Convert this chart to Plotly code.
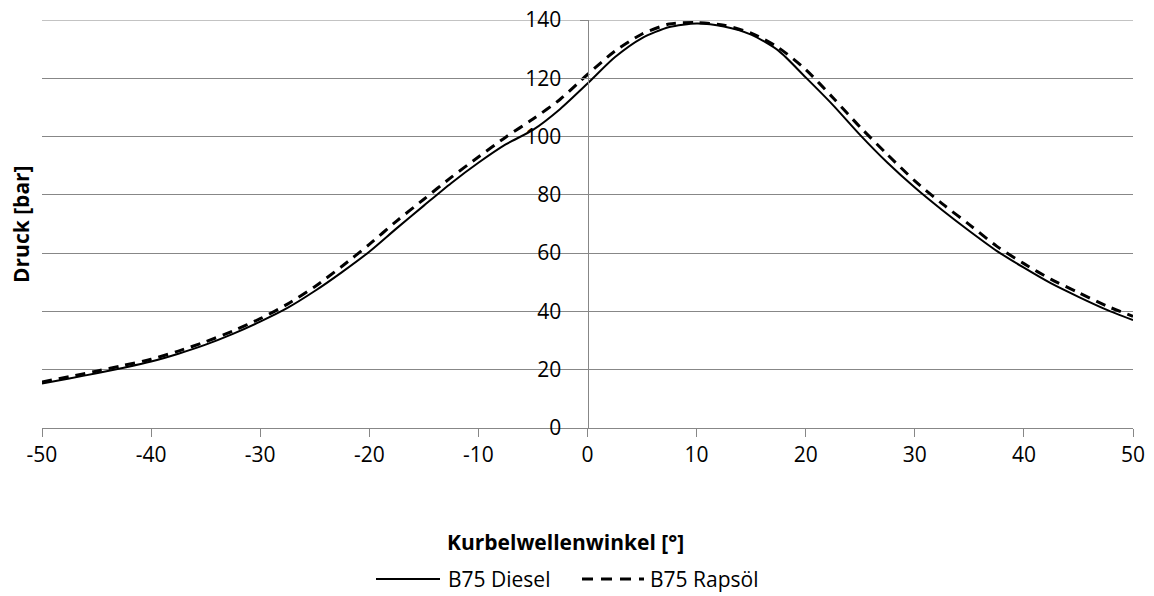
import plotly.graph_objects as go

# Crank angle [°]
winkel = [-50, -47.5, -45, -42.5, -40, -37.5, -35, -32.5, -30, -27.5, -25, -22.5, -20,
          -17.5, -15, -12.5, -10, -7.5, -5, -2.5, 0, 2.5, 5, 7.5, 10, 12.5, 15, 17.5,
          20, 22.5, 25, 27.5, 30, 32.5, 35, 37.5, 40, 42.5, 45, 47.5, 50]

# Pressure [bar]
b75_diesel = [15.3, 17.0, 18.8, 20.7, 22.8, 25.5, 28.6, 32.3, 36.5, 41.2, 47.0, 53.5, 60.5,
              68.5, 76.3, 84.0, 91.0, 97.3, 102.3, 109.5, 118.2, 127.2, 133.8, 137.6, 138.8,
              137.8, 135.0, 129.5, 120.3, 110.8, 100.5, 91.0, 82.5, 74.8, 67.6, 60.8, 55.0,
              49.6, 45.0, 40.7, 37.0]
b75_rapsoel = [15.8, 17.6, 19.5, 21.5, 23.6, 26.4, 29.6, 33.3, 37.5, 42.5, 48.5, 55.5, 63.0,
               71.0, 78.5, 86.0, 93.0, 99.8, 106.0, 112.8, 121.3, 129.3, 135.2, 138.6, 139.1,
               138.2, 135.5, 130.5, 123.0, 113.3, 103.2, 93.8, 84.8, 77.0, 69.8, 62.4, 56.4,
               51.0, 46.5, 42.0, 38.3]

x_ticks = [-50, -40, -30, -20, -10, 0, 10, 20, 30, 40, 50]
x_ticktext = ["-50", "-40", "-30", "-20", "-10", "0", "10", "20", "30", "40", "50"]
y_ticks = [0, 20, 40, 60, 80, 100, 120, 140]
series_names = ["B75 Diesel", "B75 Rapsöl"]

FONT = "Open Sans"
GRID = "#878787"

FIG_W, FIG_H = 1154, 596
# plot area in page pixels
L, R, T, B = 42, 1133, 20, 428
W, H = R - L, B - T


def px(xp):
    return (xp - L) / W


def py(yp):
    return (B - yp) / H


fig = go.Figure()
fig.add_trace(go.Scatter(x=winkel, y=b75_diesel, mode="lines", name=series_names[0],
                         line=dict(color="black", width=2, shape="spline", smoothing=0.7)))
fig.add_trace(go.Scatter(x=winkel, y=b75_rapsoel, mode="lines", name=series_names[1],
                         line=dict(color="black", width=3, dash="10px,7px",
                                   shape="spline", smoothing=0.7)))

# top gridline (plotly omits the gridline on the range edge)
top_grid = dict(type="line", xref="paper", yref="y", x0=0, x1=1, y0=y_ticks[-1], y1=y_ticks[-1],
                layer="below", line=dict(color=GRID, width=1))

# legend drawn like the Excel one (long line samples)
LEG_Y = 579
legend_shapes = [
    dict(type="line", xref="paper", yref="paper", x0=px(376), x1=px(440), y0=py(LEG_Y), y1=py(LEG_Y),
         line=dict(color="black", width=2)),
    dict(type="line", xref="paper", yref="paper", x0=px(582), x1=px(644), y0=py(LEG_Y), y1=py(LEG_Y),
         line=dict(color="black", width=3, dash="11px,8px")),
]
legend_texts = [
    dict(text=series_names[0], xref="paper", yref="paper", x=px(446), y=py(LEG_Y),
         xanchor="left", yanchor="middle", showarrow=False,
         font=dict(family=FONT, size=21, color="black")),
    dict(text=series_names[1], xref="paper", yref="paper", x=px(648), y=py(LEG_Y),
         xanchor="left", yanchor="middle", showarrow=False,
         font=dict(family=FONT, size=21, color="black")),
]

fig.update_layout(
    width=FIG_W, height=FIG_H,
    margin=dict(l=L, r=FIG_W - R, t=T, b=FIG_H - B, autoexpand=False),
    paper_bgcolor="white", plot_bgcolor="white",
    font=dict(family=FONT, size=21, color="black"),
    showlegend=False,
    hovermode=False,
    xaxis=dict(range=[-50, 50], tickvals=x_ticks, ticktext=x_ticktext, automargin=False,
               showgrid=False, zeroline=False, showline=True, linecolor=GRID, linewidth=1,
               ticks="outside", ticklen=8, tickcolor=GRID, tickwidth=1,
               ticklabeloverflow="allow",
               tickfont=dict(family=FONT, size=21, color="black")),
    yaxis=dict(range=[0, 140], tickvals=y_ticks, anchor="free", position=0.5, automargin=False,
               showgrid=True, gridcolor=GRID, gridwidth=1, zeroline=False,
               showline=True, linecolor=GRID, linewidth=1,
               ticks="outside", ticklen=8, tickcolor=GRID, tickwidth=1,
               ticklabelstandoff=14, ticklabeloverflow="allow",
               tickfont=dict(family=FONT, size=21, color="black")),
    shapes=[top_grid] + legend_shapes,
    annotations=[
        dict(text="<b>Kurbelwellenwinkel [°]</b>", xref="paper", yref="paper",
             x=px(565), y=py(542), xanchor="center", yanchor="middle",
             showarrow=False, font=dict(family=FONT, size=21, color="black")),
        dict(text="<b>Druck [bar]</b>", xref="paper", yref="paper",
             x=px(21), y=0.5, xanchor="center", yanchor="middle",
             textangle=-90, showarrow=False, font=dict(family=FONT, size=21, color="black")),
    ] + legend_texts,
)

# remove the default 8px page margin so the figure fills the window exactly
fig.write_html("out.html", config={"displayModeBar": False},
               post_script="document.body.style.margin='0';")
